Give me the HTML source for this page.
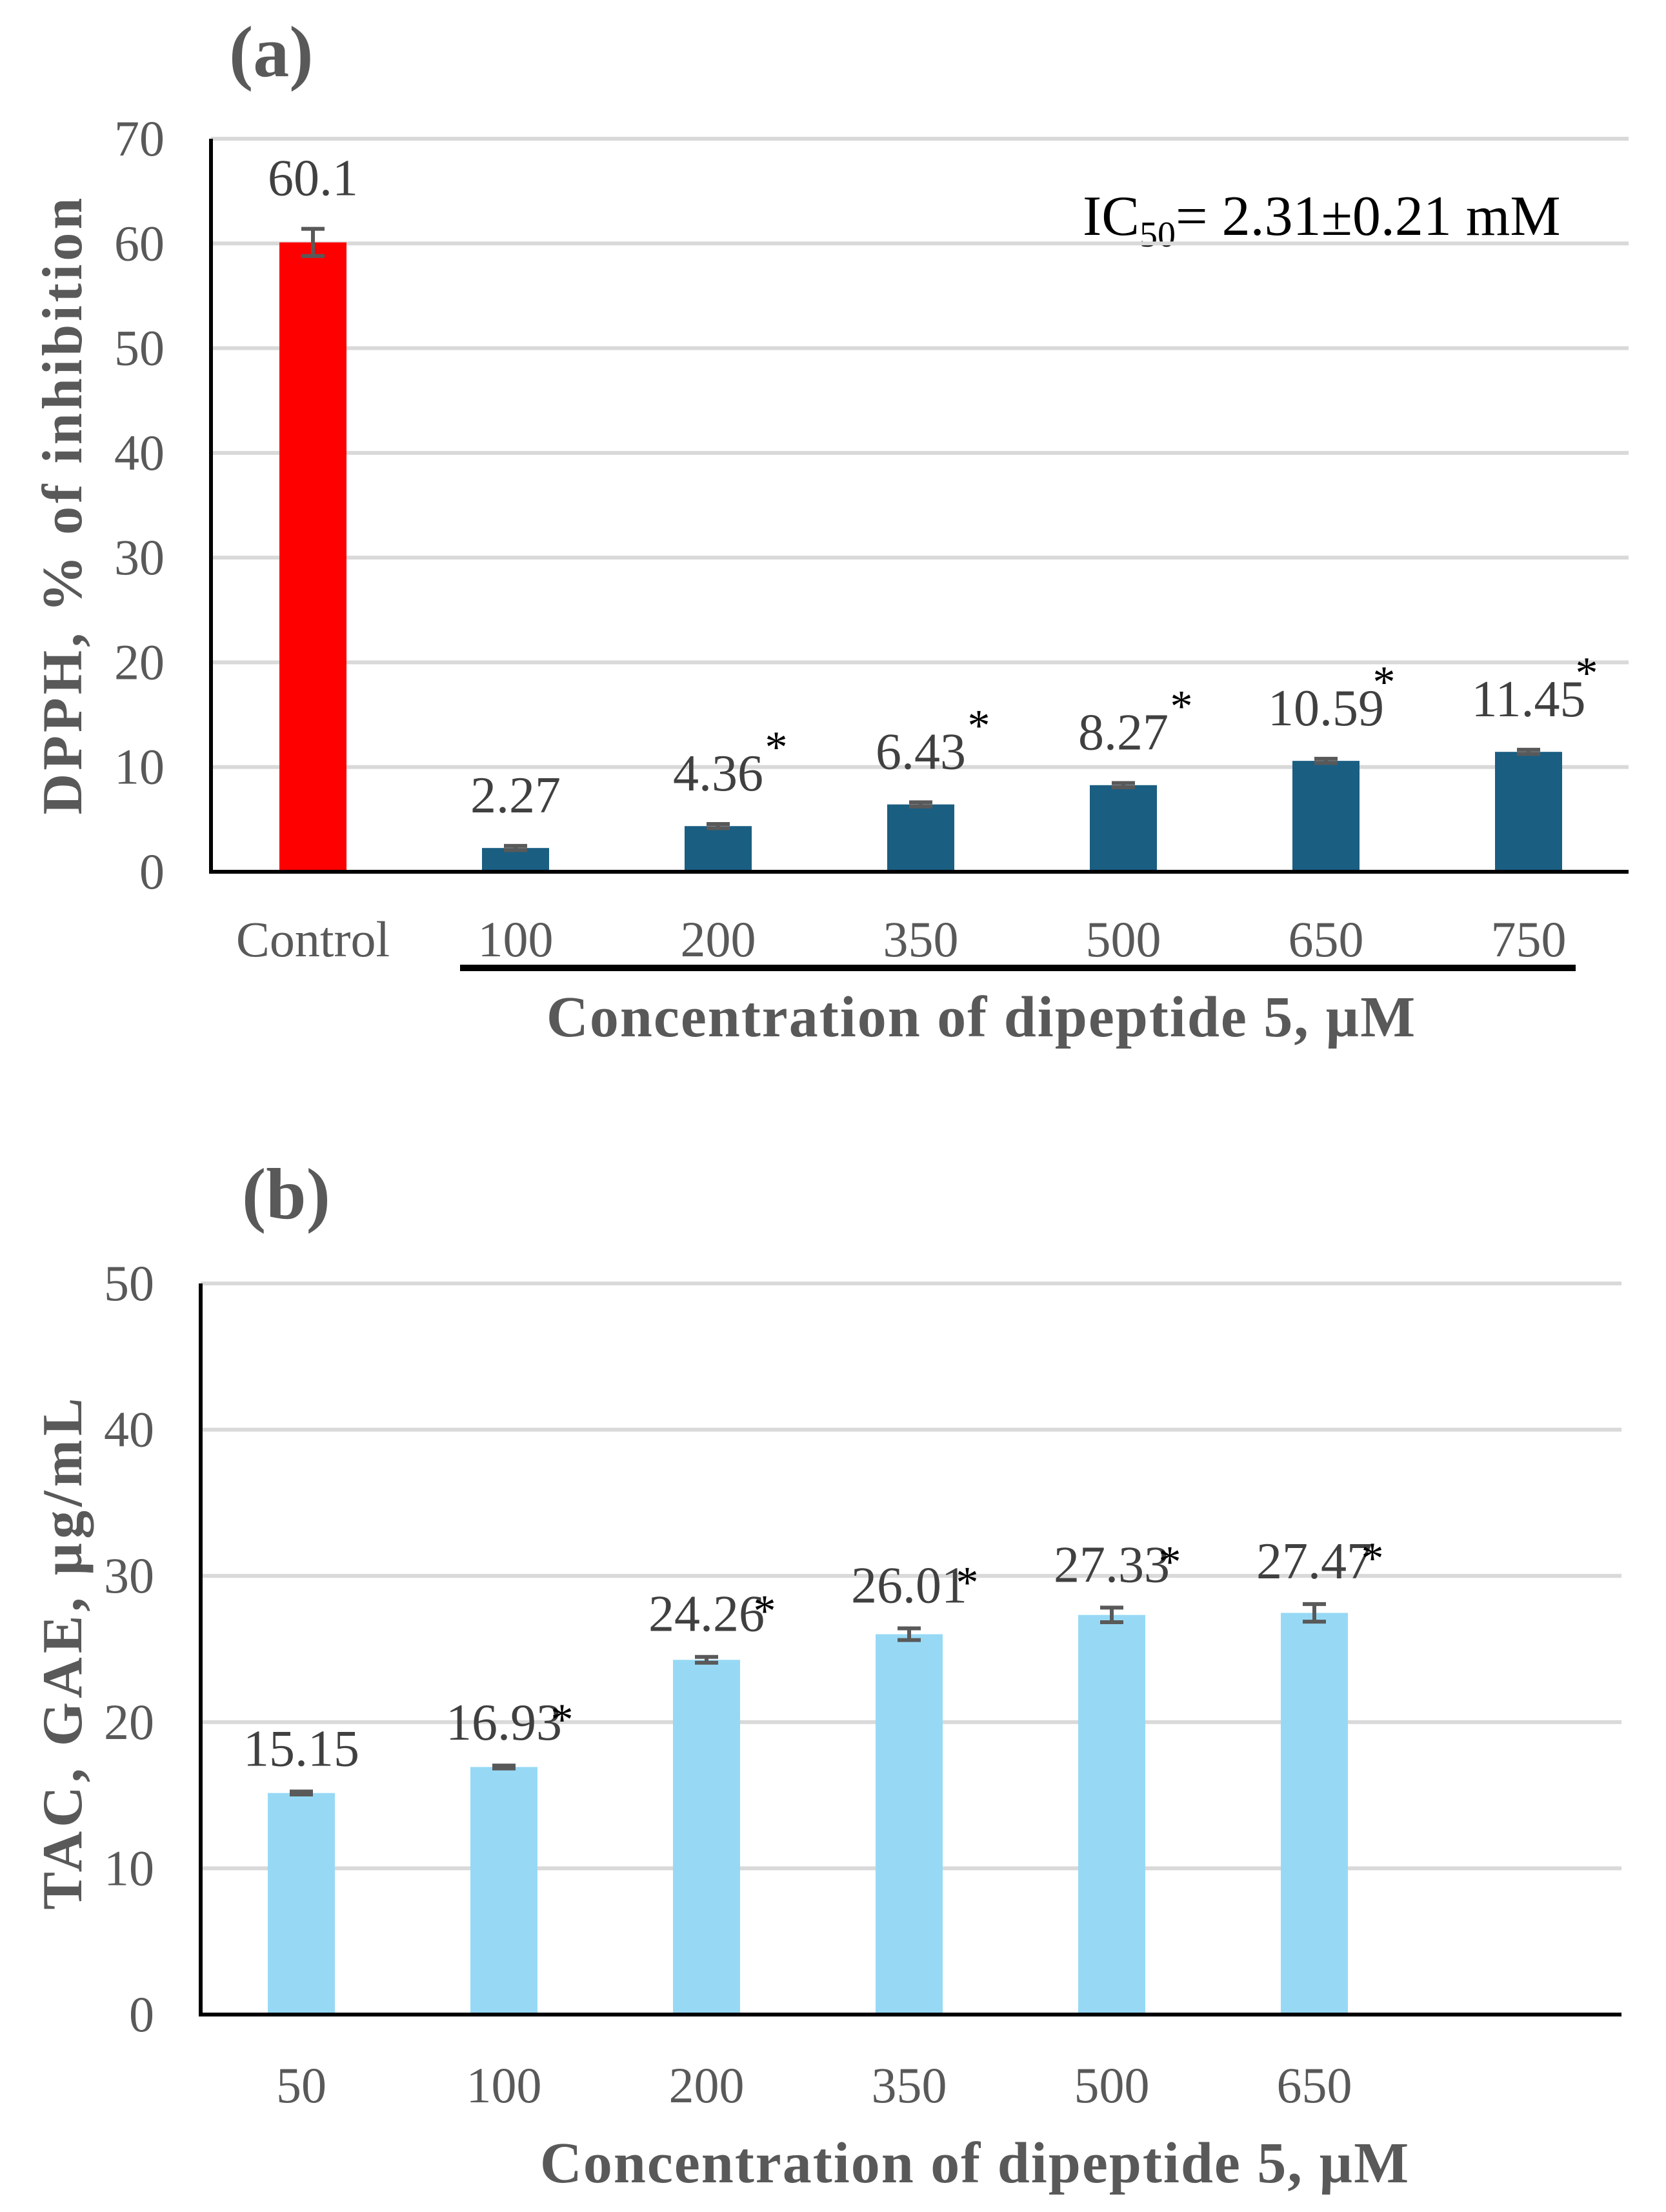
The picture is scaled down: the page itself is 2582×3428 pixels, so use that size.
<!DOCTYPE html>
<html><head><meta charset="utf-8"><style>
html,body{margin:0;padding:0;background:#fff}
svg{display:block}
text{font-family:"Liberation Serif",serif}
</style></head><body>
<svg id="fig" width="2582" height="3428" viewBox="0 0 2582 3428" xmlns="http://www.w3.org/2000/svg">
<text x="355" y="118" font-size="112" font-weight="bold" fill="#595959">(a)</text>
<text x="375" y="1888" font-size="112" font-weight="bold" fill="#595959">(b)</text>
<text transform="translate(126,782) rotate(-90)" text-anchor="middle" font-size="88" font-weight="bold" fill="#595959" letter-spacing="5">DPPH, % of inhibition</text>
<text transform="translate(126,2560) rotate(-90)" text-anchor="middle" font-size="88" font-weight="bold" fill="#595959" letter-spacing="6">TAC, GAE, µg/mL</text>
<text x="1521" y="1606" text-anchor="middle" font-size="90" font-weight="bold" fill="#595959" letter-spacing="2">Concentration of dipeptide 5, µM</text>
<text x="1511" y="3382" text-anchor="middle" font-size="90" font-weight="bold" fill="#595959" letter-spacing="2">Concentration of dipeptide 5, µM</text>
<rect x="713" y="1495" width="1729" height="10" fill="#000"/>
<text x="1678" y="364" font-size="88" fill="#000">IC<tspan font-size="56" dy="18">50</tspan><tspan dy="-18">= 2.31±0.21 mM</tspan></text>
<g id="chartA"></g>
<g id="chartB"></g>
</svg>
<script>
const catsA = ["Control","100","200","350","500","650","750"];
const valsA = [60.1,2.27,4.36,6.43,8.27,10.59,11.45];
const errA = [1.3,0.2,0.2,0.2,0.2,0.2,0.2];
const starA = [false,false,true,true,true,true,true];
const ticksA = [0,10,20,30,40,50,60,70];

const catsB = ["50","100","200","350","500","650"];
const valsB = [15.15,16.93,24.26,26.01,27.33,27.47];
const errB = [0.1,0.1,0.2,0.4,0.5,0.6];
const starB = [false,true,true,true,true,true];
const ticksB = [0,10,20,30,40,50];

const NS="http://www.w3.org/2000/svg";
function mk(parent,tag,attrs,txt){const e=document.createElementNS(NS,tag);for(const k in attrs)e.setAttribute(k,attrs[k]);if(txt!==undefined)e.textContent=txt;parent.appendChild(e);return e;}

function draw(g,o){
  const y=v=>o.y0-(v-o.vmin)/(o.vmax-o.vmin)*(o.y0-o.yTop);
  const x=i=>o.x0c+i*o.step;
  o.ticks.forEach(t=>{
    if(t>0){const l=mk(g,"rect",{x:o.axisX,y:y(t)-3,width:o.right-o.axisX,height:6,fill:"#d9d9d9"});
    
    }
    const tl=mk(g,"text",{x:o.axisX-72,y:y(t)+26,"text-anchor":"end","font-size":78,fill:"#595959"},String(t));
    
    
  });
  o.vals.forEach((v,i)=>{
    const bw=104;
    const b=mk(g,"rect",{x:x(i)-bw/2,y:y(v),width:bw,height:y(0)-y(v),fill:o.colors(i)});
    
    
    const e=o.err[i];
    const eb=mk(g,"path",{d:`M${x(i)} ${y(v+e)}V${y(v-e)}M${x(i)-18} ${y(v+e)}H${x(i)+18}M${x(i)-18} ${y(v-e)}H${x(i)+18}`,stroke:"#595959","stroke-width":6,fill:"none"});
    
    
    const ly=y(v+e)-o.labelGap;
    const lb=mk(g,"text",{x:x(i),y:ly,"text-anchor":"middle","font-size":80,fill:"#404040"},String(v));
    
    
    if(o.star[i]){
      const s=mk(g,"text",{x:x(i)+o.sdx,y:ly+o.sdy,"text-anchor":"middle","font-size":70,fill:"#000"},"*");
      
      
    }
    const cl=mk(g,"text",{x:x(i),y:o.catY,"text-anchor":"middle","font-size":78,fill:"#595959"},o.cats[i]);
    
    
  });
  const ax=mk(g,"rect",{x:o.axisX-3,y:o.yTop,width:6,height:y(0)-o.yTop+3,fill:"#000"});
  
  
  const bx=mk(g,"rect",{x:o.axisX,y:y(0)-3,width:o.right-o.axisX,height:6,fill:"#000"});
  
  
}
draw(document.getElementById("chartA"),{cats:catsA,vals:valsA,err:errA,star:starA,ticks:ticksA,vmin:0,vmax:70,
  y0:1351,yTop:215,axisX:327,right:2524,x0c:485,step:314,catY:1482,labelGap:52,sdx:90,sdy:-44,
  colors:i=>i===0?"#ff0000":"#1a5e82"});
draw(document.getElementById("chartB"),{cats:catsB,vals:valsB,err:errB,star:starB,ticks:ticksB,vmin:0,vmax:50,
  y0:3122,yTop:1989,axisX:311,right:2513,x0c:467,step:314,catY:3258,labelGap:40,sdx:90,sdy:-8,
  colors:i=>"#97d9f5"});
</script>
</body></html>
